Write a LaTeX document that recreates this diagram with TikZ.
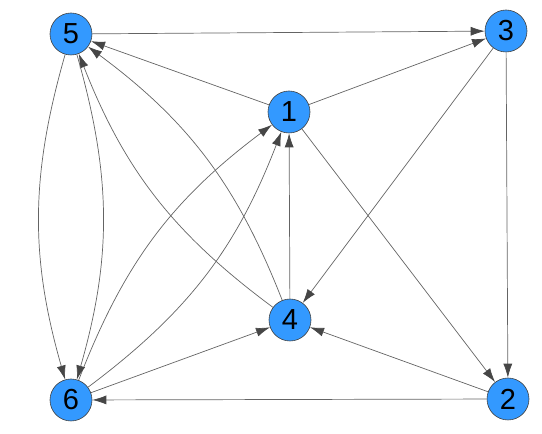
\documentclass[tikz,border=0pt]{standalone}
\usepackage{fontspec}
\setmainfont{Liberation Sans}
\usepackage{xcolor}
\usetikzlibrary{arrows.meta}
\definecolor{vertexblue}{RGB}{51,153,255}
\definecolor{edgegray}{RGB}{100,100,100}
\definecolor{tipgray}{RGB}{70,70,70}

\begin{document}
\begin{tikzpicture}[
    x=1pt,y=1pt,
    vertex/.style={circle,draw=black!75,fill=vertexblue,line width=0.6pt,
      minimum size=42pt,inner sep=0pt,font=\fontsize{29}{29}\selectfont},
    arrow/.style={-{Latex[length=14pt,width=9pt,color=tipgray,fill=tipgray]},
      draw=edgegray,line width=0.7pt}
  ]
    \useasboundingbox (0,0) rectangle (542,434);

    \node[vertex] (v5) at (71,400) {5};
    \node[vertex] (v3) at (506,403) {3};
    \node[vertex] (v1) at (289,322) {1};
    \node[vertex] (v4) at (290,114) {4};
    \node[vertex] (v6) at (71,34) {6};
    \node[vertex] (v2) at (508,35) {2};

    \draw[arrow] (v5) -- (v3);
    \draw[arrow] (v1) -- (v3);
    \draw[arrow] (v1) -- (v5);
    \draw[arrow] (v1) -- (v2);
    \draw[arrow] (v3) -- (v4);
    \draw[arrow] (v3) -- (v2);
    \draw[arrow] (v4) -- (v1);
    \draw[arrow] (v6) -- (v4);
    \draw[arrow] (v2) -- (v4);
    \draw[arrow] (v2) -- (v6);

    % double edges
    \draw[arrow] (v4) to[bend left=16] (v5);
    \draw[arrow] (v4) to[bend right=16] (v5);
    \draw[arrow] (v6) to[bend left=16] (v1);
    \draw[arrow] (v6) to[bend right=16] (v1);
    \draw[arrow] (v5) to[bend left=16] (v6);
    \draw[arrow] (v5) to[bend right=16] (v6);
  \end{tikzpicture}
\end{document}
